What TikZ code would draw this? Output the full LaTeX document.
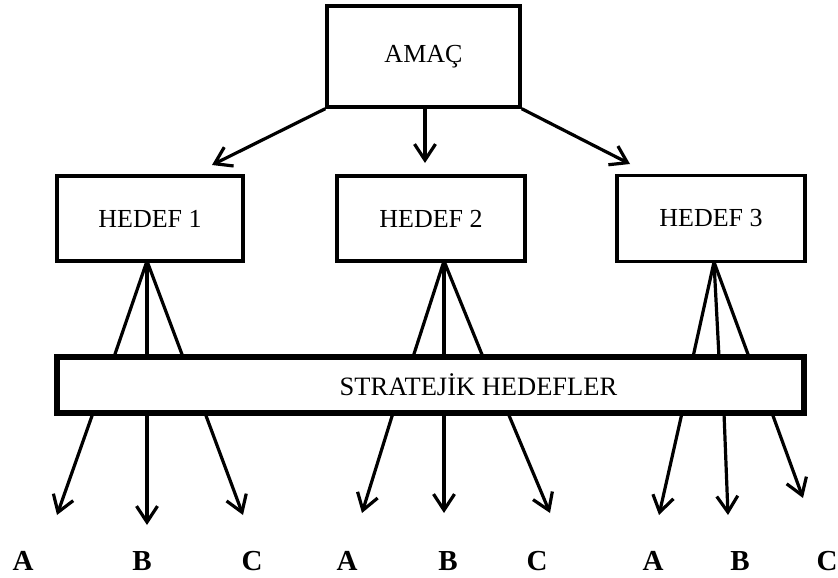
\documentclass[tikz,border=0pt]{standalone}
\usepackage{fontspec}
\setmainfont{Liberation Serif}
\usetikzlibrary{arrows.meta}
\begin{document}
\begin{tikzpicture}[x=1pt,y=-1pt,
  box/.style={draw,line width=3.4pt,rectangle,inner sep=0pt,
    font=\fontsize{26}{30}\selectfont},
  stratbox/.style={draw,line width=5.4pt,rectangle,inner sep=0pt,
    font=\fontsize{26.5}{30}\selectfont},
  conn/.style={line width=3.2pt},
  arr/.style={line width=3.2pt,-{Straight Barb[length=16pt,width=21pt,line width=3.2pt]}},
  lbl/.style={inner sep=0pt,anchor=base,font=\fontsize{29}{32}\selectfont\bfseries}]
\useasboundingbox[fill=white] (0,0) rectangle (838,578);

% boxes
\node[box,minimum width=193pt,minimum height=101pt] (amac) at (423.5,56.5) {AMAÇ};
\node[box,minimum width=186pt,minimum height=85pt] (h1) at (150,218.5) {HEDEF 1};
\node[box,minimum width=188pt,minimum height=85pt] (h2) at (431,218.5) {HEDEF 2};
\node[box,minimum width=188pt,minimum height=86pt] (h3) at (711,218.5) {HEDEF 3};
\node[stratbox,minimum width=747pt,minimum height=56pt] (s) at (430.5,385) {\hspace*{96pt}STRATEJİK HEDEFLER};

% arrows from AMAÇ
\coordinate (a1) at (212,165);
\coordinate (a2) at (425,163);
\coordinate (a3) at (630,164);
\draw[arr] (amac.south west) -- (a1);
\draw[arr] (amac.south west -| a2) -- (a2);
\draw[arr] (amac.south east) -- (a3);

% fan lines from targets to strategic box
\coordinate (f1) at (147,261);
\coordinate (f2) at (444,261);
\coordinate (f3) at (714,262);
\foreach \x in {114,147,183} \draw[conn] (f1) -- (\x,357);
\foreach \x in {413,444,483} \draw[conn] (f2) -- (\x,357);
\foreach \x in {693,719,749} \draw[conn] (f3) -- (\x,357);

% arrows down
\coordinate (e1) at (57,515);
\coordinate (e2) at (147,525);
\coordinate (e3) at (243,515);
\coordinate (e4) at (362,513);
\coordinate (e5) at (444,513);
\coordinate (e6) at (550,513);
\coordinate (e7) at (659,515);
\coordinate (e8) at (728,515);
\coordinate (e9) at (803,498);
\draw[arr] (93,413) -- (e1);
\draw[arr] (147,413) -- (e2);
\draw[arr] (205,413) -- (e3);
\draw[arr] (393,413) -- (e4);
\draw[arr] (444,413) -- (e5);
\draw[arr] (508,413) -- (e6);
\draw[arr] (682,413) -- (e7);
\draw[arr] (724,413) -- (e8);
\draw[arr] (772,413) -- (e9);

% labels
\node[lbl] (l1) at (23,570) {A};
\node[lbl] (l2) at (142,570) {B};
\node[lbl] (l3) at (252,570) {C};
\node[lbl] (l4) at (347,570) {A};
\node[lbl] (l5) at (448,570) {B};
\node[lbl] (l6) at (537,570) {C};
\node[lbl] (l7) at (653,570) {A};
\node[lbl] (l8) at (740,570) {B};
\node[lbl] (l9) at (827,570) {C};
\end{tikzpicture}
\end{document}
